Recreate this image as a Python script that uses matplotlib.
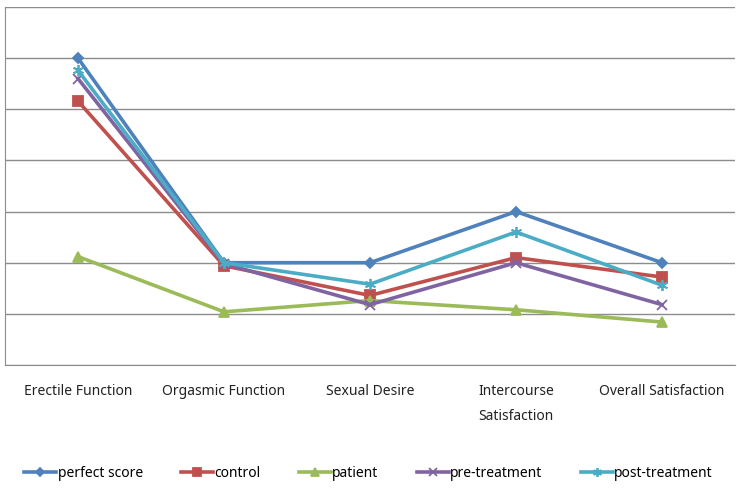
import matplotlib.pyplot as plt

#---------------data---------------------------------
categories = ["Erectile Function", "Orgasmic Function", "Sexual Desire",
              "Intercourse\nSatisfaction", "Overall Satisfaction"]

perfect_score = [30, 10, 10, 15, 10]
control = [25.8, 9.7, 6.8, 10.5, 8.6]
patient = [10.6, 5.2, 6.3, 5.4, 4.2]
pre_treatment = [28.0, 9.9, 5.9, 10.0, 5.9]
post_treatment = [28.8, 10.0, 7.9, 13.0, 7.8]

series = [
    ("perfect score", perfect_score, "#4F81BD", "D", 5.5),
    ("control", control, "#C0504D", "s", 6.5),
    ("patient", patient, "#9BBB59", "^", 6.5),
    ("pre-treatment", pre_treatment, "#8064A2", "x", 6.5),
    ("post-treatment", post_treatment, "#4BACC6", (6, 2, 0), 8),
]

plt.rcParams['font.family'] = ['Noto Sans', 'DejaVu Sans']

fig = plt.figure(figsize=(7.37, 4.94), dpi=100)
ax = fig.add_axes([5 / 737, 129 / 494, 730 / 737, 358 / 494])

x = list(range(len(categories)))
for name, vals, col, mk, ms in series:
    ax.plot(x, vals, color=col, linewidth=2.6, marker=mk, markersize=ms,
            markeredgewidth=1.3, markeredgecolor=col, label=name)

ax.set_xlim(-0.5, len(categories) - 0.5)
ax.set_ylim(0, 35)
ax.set_yticks(range(0, 36, 5))
ax.set_yticklabels([])
ax.tick_params(axis='y', length=0)
ax.tick_params(axis='x', length=0, pad=14, labelsize=10, colors="#222222")
ax.set_xticks(x)
ax.set_xticklabels(categories, linespacing=1.85)

ax.grid(axis='y', color="#8C8C8C", linewidth=1)
ax.set_axisbelow(True)
for s in ['top', 'right']:
    ax.spines[s].set_visible(False)
for s in ['left', 'bottom']:
    ax.spines[s].set_color("#8C8C8C")

fig.legend(loc='center', bbox_to_anchor=(0.5, 1 - 473 / 494), ncol=5,
           frameon=False, fontsize=10, handlelength=2.3, handletextpad=0.1,
           columnspacing=2.75, markerscale=0.8)

plt.savefig("out.png", dpi=100)
